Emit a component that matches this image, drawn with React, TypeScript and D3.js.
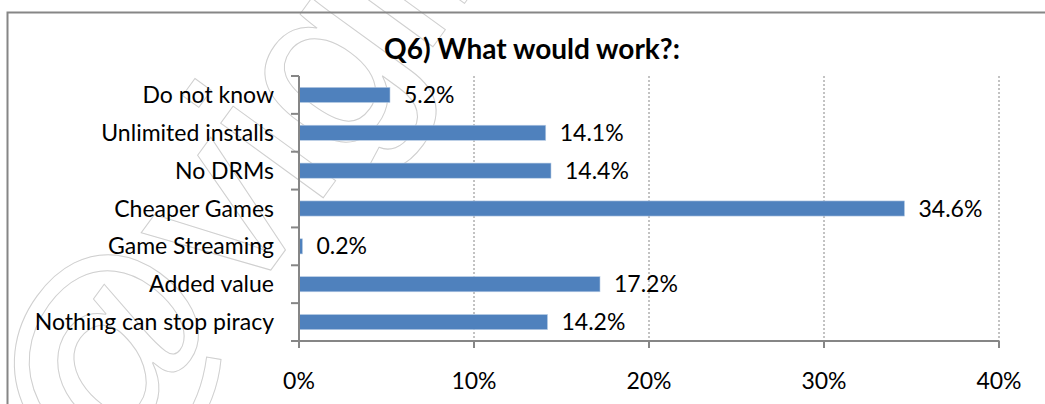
import React from "react";
import * as d3 from "d3";

const categories = [
  "Do not know",
  "Unlimited installs",
  "No DRMs",
  "Cheaper Games",
  "Game Streaming",
  "Added value",
  "Nothing can stop piracy",
];
const values = [0.052, 0.141, 0.144, 0.346, 0.002, 0.172, 0.142];
const xTicks = [0, 0.1, 0.2, 0.3, 0.4];
const title = "Q6) What would work?:";
const watermark = "@vigilo";

const W = 1045;
const H = 404;
const FONT = "Lato, 'Noto Sans', sans-serif";

export default function App() {
  const x = d3.scaleLinear().domain([0, 0.4]).range([299, 999]);
  const y = d3.scaleBand<string>().domain(categories).range([76, 341]).padding(0);
  const bw = y.bandwidth();
  const barH = bw / 2.5;
  const pct0 = d3.format(".0%");
  const pct1 = d3.format(".1%");
  const axisColor = "#868686";
  const boundaries = d3.range(categories.length + 1).map((i) => 76 + i * bw);

  return (
    <svg
      width={W}
      height={H}
      style={{ position: "absolute", left: 0, top: 0, display: "block", background: "#fff" }}
    >
      {/* watermark */}
      <text
        transform="translate(100,505) rotate(-54)"
        fontFamily="'Liberation Sans', Arial, sans-serif"
        fontSize={240}
        fill="none"
        stroke="#cfcfcf"
        strokeWidth={1}
      >
        {watermark}
      </text>

      {/* frame */}
      <rect x={7.5} y={12.5} width={1100} height={500} fill="none" stroke={axisColor} strokeWidth={2} />

      {/* title */}
      <text x={532} y={59} textAnchor="middle" fontFamily={FONT} fontWeight="bold" fontSize={28} fill="#000">
        {title}
      </text>

      {/* gridlines */}
      {xTicks.slice(1).map((t) => (
        <line
          key={"g" + t}
          x1={x(t)}
          x2={x(t)}
          y1={76}
          y2={341}
          stroke={axisColor}
          strokeWidth={1}
          strokeDasharray="2,2"
        />
      ))}

      {/* bars */}
      {categories.map((c, i) => {
        const cy = (y(c) as number) + bw / 2;
        return (
          <g key={c}>
            <rect
              x={x(0)}
              y={cy - barH / 2}
              width={x(values[i]) - x(0)}
              height={barH}
              fill="#4F81BD"
              stroke="#B9CDE5"
              strokeWidth={0.6}
            />
            <text x={x(values[i]) + 14} y={cy + 8} fontFamily={FONT} fontSize={23} fill="#000">
              {pct1(values[i])}
            </text>
            <text x={274} y={cy + 8} textAnchor="end" fontFamily={FONT} fontSize={23} fill="#000">
              {c}
            </text>
          </g>
        );
      })}

      {/* y axis */}
      <line x1={299} x2={299} y1={76} y2={348} stroke={axisColor} strokeWidth={2} />
      {boundaries.map((b, i) => (
        <line key={"yt" + i} x1={291} x2={299} y1={b} y2={b} stroke={axisColor} strokeWidth={2} />
      ))}

      {/* x axis */}
      <line x1={299} x2={x(0.4)} y1={341} y2={341} stroke={axisColor} strokeWidth={2} />
      {xTicks.map((t) => (
        <g key={"xt" + t}>
          <line x1={x(t)} x2={x(t)} y1={341} y2={348} stroke={axisColor} strokeWidth={2} />
          <text x={x(t)} y={389} textAnchor="middle" fontFamily={FONT} fontSize={23} fill="#000">
            {pct0(t)}
          </text>
        </g>
      ))}
    </svg>
  );
}
